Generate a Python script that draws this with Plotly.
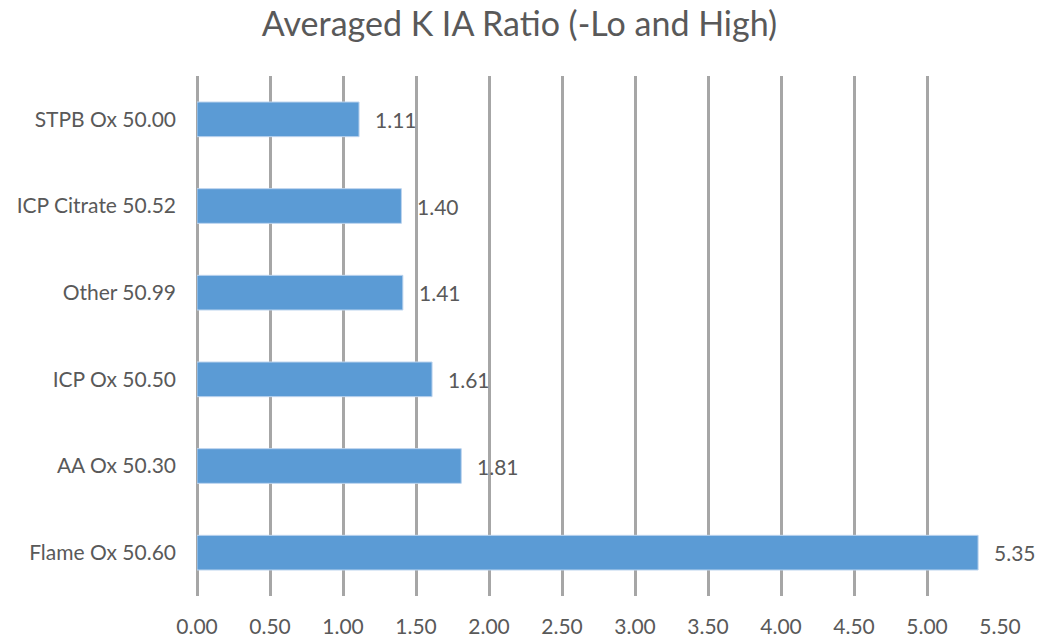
import plotly.graph_objects as go

categories = ["Flame Ox 50.60", "AA Ox 50.30", "ICP Ox 50.50", "Other 50.99",
              "ICP Citrate 50.52", "STPB Ox 50.00"]
values = [5.35, 1.81, 1.61, 1.41, 1.40, 1.11]
tick_vals = [0, 0.5, 1, 1.5, 2, 2.5, 3, 3.5, 4, 4.5, 5, 5.5]
tick_text = ["0.00", "0.50", "1.00", "1.50", "2.00", "2.50", "3.00", "3.50",
             "4.00", "4.50", "5.00", "5.50"]
title = "Averaged K IA Ratio (-Lo and High)"

FONT = "Lato"
TXT = "#595959"

fig = go.Figure()
fig.add_trace(go.Bar(
    y=categories, x=values, orientation="h",
    marker=dict(color="#5b9bd5", line=dict(color="#bcd4ee", width=1)),
    width=0.4, hoverinfo="skip",
))
for c, v in zip(categories, values):
    fig.add_annotation(x=v, y=c, text=f"{v:.2f}", showarrow=False,
                       xanchor="left", xshift=14, yshift=0,
                       font=dict(family=FONT, size=21, color=TXT))

fig.update_layout(
    width=1039, height=638,
    paper_bgcolor="white", plot_bgcolor="white",
    margin=dict(l=197, r=39, t=76, b=42),
    showlegend=False,
    title=dict(text=title, x=0.5, xanchor="center", y=0.963, yanchor="middle",
               font=dict(family=FONT, size=34, color=TXT)),
    xaxis=dict(range=[0, 5.5], tickvals=tick_vals, ticktext=tick_text,
               showgrid=True, gridcolor="#a6a6a6", gridwidth=2.5,
               zeroline=True, zerolinecolor="#a6a6a6", zerolinewidth=2.5,
               showline=False, ticks="", ticklabelstandoff=16, automargin=False,
               tickfont=dict(family=FONT, size=21, color=TXT)),
    yaxis=dict(categoryorder="array", categoryarray=categories,
               showgrid=False, zeroline=False, showline=False, ticks="",
               ticklabelstandoff=20, automargin=False,
               tickfont=dict(family=FONT, size=21, color=TXT)),
)
fig.write_html("out.html", config={"displayModeBar": False},
               post_script="document.body.style.margin='0';")
